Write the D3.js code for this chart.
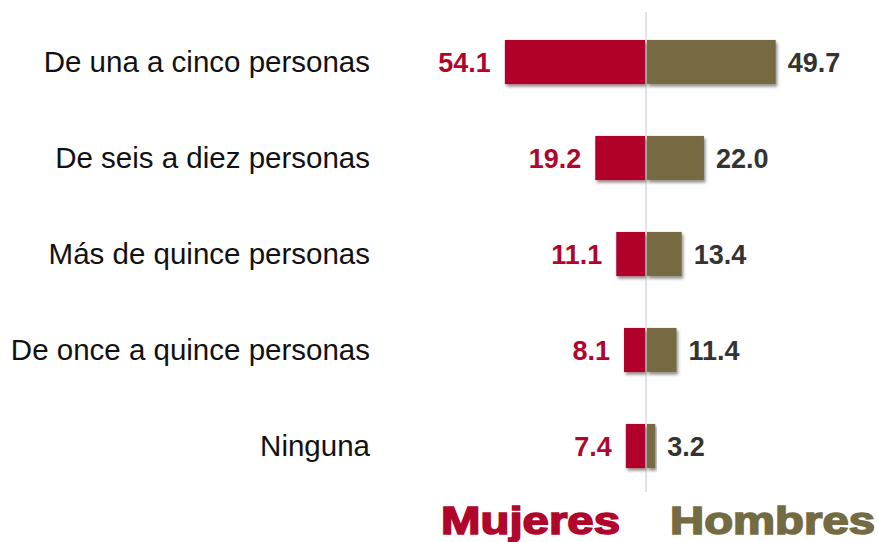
<!DOCTYPE html>
<html>
<head>
<meta charset="utf-8">
<script src="https://cdn.jsdelivr.net/npm/d3@7"></script>
<style>
  body { margin: 0; background: #fff; }
  svg { display: block; font-family: Arial, "Liberation Sans", sans-serif; }
</style>
</head>
<body>
<div id="chart"></div>
<script>
var categories = ['De una a cinco personas', 'De seis a diez personas', 'Más de quince personas', 'De once a quince personas', 'Ninguna'];
var mujeres = [54.1, 19.2, 11.1, 8.1, 7.4];
var hombres = [49.7, 22.0, 13.4, 11.4, 3.2];
var seriesNames = ['Mujeres', 'Hombres'];

var width = 878, height = 542;
var cx = 646;
var red = '#b1062c', olive = '#756b43';

var svg = d3.select('#chart').append('svg')
            .attr('width', width)
            .attr('height', height);

var defs = svg.append('defs');
var f = defs.append('filter').attr('id', 'shadow')
            .attr('x', '-20%').attr('y', '-20%')
            .attr('width', '140%').attr('height', '160%');
f.append('feDropShadow')
 .attr('dx', 1.5).attr('dy', 2.5)
 .attr('stdDeviation', 1.8)
 .attr('flood-color', '#000')
 .attr('flood-opacity', 0.45);

var y = d3.scaleBand()
          .domain(categories)
          .range([14, 494])
          .paddingInner(0.54)
          .paddingOuter(0.27);

var x = d3.scaleLinear().domain([0, 60]).range([0, 155.4]);

// center line
svg.append('line')
   .attr('x1', cx).attr('x2', cx)
   .attr('y1', 12).attr('y2', 492)
   .style('stroke', '#d0d0d0')
   .style('stroke-width', 1.2);

var rows = svg.selectAll('g.row')
              .data(categories)
              .enter().append('g')
              .attr('class', 'row')
              .attr('transform', function(d) { return 'translate(0,' + y(d) + ')'; });

rows.append('rect')
    .attr('x', function(d, i) { return cx - 1 - x(mujeres[i]); })
    .attr('y', 0)
    .attr('width', function(d, i) { return x(mujeres[i]); })
    .attr('height', y.bandwidth())
    .style('fill', red)
    .attr('filter', 'url(#shadow)');

rows.append('rect')
    .attr('x', cx + 1)
    .attr('y', 0)
    .attr('width', function(d, i) { return x(hombres[i]); })
    .attr('height', y.bandwidth())
    .style('fill', olive)
    .attr('filter', 'url(#shadow)');

// category labels
rows.append('text')
    .attr('x', 370)
    .attr('y', y.bandwidth() / 2)
    .attr('dy', '0.35em')
    .attr('text-anchor', 'end')
    .style('font-size', '29.5px')
    .style('fill', '#111111')
    .text(function(d) { return d; });

// value labels
rows.append('text')
    .attr('x', function(d, i) { return cx - 1 - x(mujeres[i]) - 14; })
    .attr('y', y.bandwidth() / 2)
    .attr('dy', '0.36em')
    .attr('text-anchor', 'end')
    .style('font-size', '27px')
    .style('font-weight', 'bold')
    .style('fill', red)
    .text(function(d, i) { return d3.format('.1f')(mujeres[i]); });

rows.append('text')
    .attr('x', function(d, i) { return cx + 1 + x(hombres[i]) + 12; })
    .attr('y', y.bandwidth() / 2)
    .attr('dy', '0.36em')
    .attr('text-anchor', 'start')
    .style('font-size', '27px')
    .style('font-weight', 'bold')
    .style('fill', '#333333')
    .text(function(d, i) { return d3.format('.1f')(hombres[i]); });

// legend
var legendX = [441, 670];
var legendW = [179, 205];
svg.selectAll('text.legend')
   .data(seriesNames)
   .enter().append('text')
   .attr('class', 'legend')
   .attr('x', function(d, i) { return legendX[i]; })
   .attr('y', 534)
   .attr('textLength', function(d, i) { return legendW[i]; })
   .attr('lengthAdjust', 'spacingAndGlyphs')
   .style('font-size', '38px')
   .style('font-weight', 'bold')
   .style('fill', function(d, i) { return i == 0 ? red : olive; })
   .style('stroke', function(d, i) { return i == 0 ? red : olive; })
   .style('stroke-width', 1.6)
   .text(function(d) { return d; });
</script>
</body>
</html>
